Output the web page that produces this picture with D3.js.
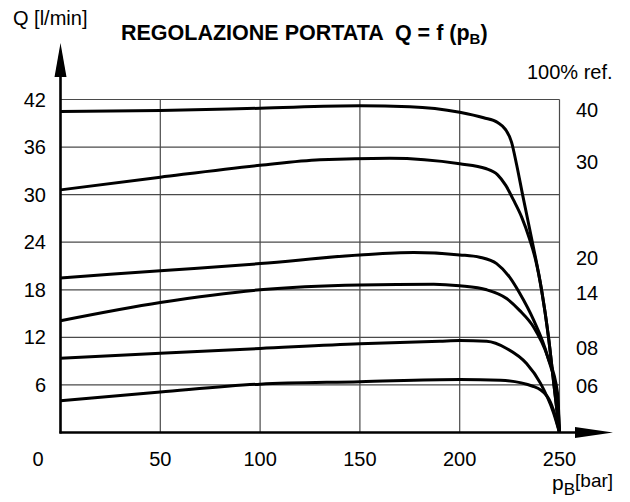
<!DOCTYPE html>
<html>
<head>
<meta charset="utf-8">
<script src="https://cdn.jsdelivr.net/npm/d3@7"></script>
<style>
  body { margin: 0; background: #fff; }
  svg text { font-family: "Liberation Sans", Arial, sans-serif; fill: #000; white-space: pre; }
</style>
</head>
<body>
<svg id="chart" width="630" height="502"></svg>
<script>
// tick labels
const xTicks = [0, 50, 100, 150, 200, 250];
const yTicks = [6, 12, 18, 24, 30, 36, 42];

// curves: [p_B (bar), Q (l/min)]
const curve40 = [[0, 40.5], [50, 40.6], [100, 40.9], [150, 41.2], [175, 41.1], [200, 40.4], [212, 39.7], [219, 39.1], [223, 38.2], [226, 36.6], [228.5, 33.8], [231.5, 30], [236, 24.5], [241, 18], [244.5, 12], [247, 6.5], [250, 0]];
const curve30 = [[0, 30.6], [50, 32.2], [100, 33.7], [130, 34.4], [165, 34.6], [200, 33.9], [213, 33.3], [219, 32.5], [223, 31.2], [227, 29.3], [231, 27.2], [235, 24.4], [238, 21.8], [241, 18], [244.5, 12], [247, 6.5], [250, 0]];
const curve20 = [[0, 19.5], [50, 20.4], [100, 21.3], [150, 22.4], [177, 22.7], [200, 22.4], [210, 22.1], [218.5, 21.3], [225, 19.6], [230, 17.6], [237, 14.2], [244, 9.6], [249, 4.1], [250, 0]];
const curve14 = [[0, 14.1], [50, 16.4], [100, 18.0], [150, 18.6], [187, 18.7], [200, 18.5], [213.5, 18.0], [223.5, 16.9], [230, 15.4], [237, 13.3], [244, 9.6], [249, 5], [250, 0]];
const curve08 = [[0, 9.35], [50, 10.0], [100, 10.6], [150, 11.2], [190, 11.5], [200, 11.6], [213.5, 11.5], [223.5, 10.6], [233.5, 8.7], [240.5, 6.2], [247, 2.5], [250, 0]];
const curve06 = [[0, 4.0], [50, 5.1], [100, 6.1], [150, 6.4], [200, 6.7], [220.5, 6.6], [237, 5.8], [244, 4.5], [247, 2.8], [250, 0]];

const curveNames = ['40', '30', '20', '14', '08', '06'];
const curves = [curve40, curve30, curve20, curve14, curve08, curve06];

const svg = d3.select('#chart');

const x = d3.scaleLinear().domain([0, 250]).range([60.5, 559.5]);
const y = d3.scaleLinear().domain([0, 42]).range([432.5, 99.5]);

// grid
const grid = svg.append('g').attr('stroke', '#4a4a4a').attr('stroke-width', 1.2);
grid.selectAll('line.h')
  .data(yTicks)
  .enter().append('line')
  .attr('x1', x(0)).attr('x2', x(250))
  .attr('y1', d => y(d)).attr('y2', d => y(d));
grid.selectAll('line.v')
  .data(xTicks.slice(1))
  .enter().append('line')
  .attr('x1', d => x(d)).attr('x2', d => x(d))
  .attr('y1', y(0)).attr('y2', y(42));

// axes with arrows
svg.append('line')
  .attr('x1', x(0)).attr('x2', x(0))
  .attr('y1', y(0) + 1).attr('y2', 70)
  .attr('stroke', '#000').attr('stroke-width', 2.6);
svg.append('path')
  .attr('d', `M${x(0)},43 L${x(0) - 6},77 L${x(0) + 6},77 Z`)
  .attr('fill', '#000');
svg.append('line')
  .attr('x1', x(0) - 1).attr('x2', 585)
  .attr('y1', y(0)).attr('y2', y(0))
  .attr('stroke', '#000').attr('stroke-width', 2.6);
svg.append('path')
  .attr('d', `M613,${y(0)} L575,${y(0) - 5.5} L575,${y(0) + 5.5} Z`)
  .attr('fill', '#000');

// tick labels
svg.append('g').selectAll('text')
  .data(yTicks)
  .enter().append('text')
  .attr('x', 46)
  .attr('y', d => y(d) + 7)
  .attr('text-anchor', 'end')
  .style('font-size', '20px')
  .text(d => d);

svg.append('g').selectAll('text')
  .data(xTicks)
  .enter().append('text')
  .attr('x', d => d === 0 ? 38 : x(d))
  .attr('y', 466)
  .attr('text-anchor', 'middle')
  .style('font-size', '20px')
  .text(d => d);

// curves
const line = d3.line()
  .x(d => x(d[0]))
  .y(d => y(d[1]))
  .curve(d3.curveMonotoneX);

svg.append('g').selectAll('path')
  .data(curves)
  .enter().append('path')
  .attr('d', line)
  .attr('fill', 'none')
  .attr('stroke', '#000')
  .attr('stroke-width', 3)
  .attr('stroke-linejoin', 'round');

// curve names on the right
const labelY = [110, 162, 258, 293, 348, 386];
svg.append('g').selectAll('text')
  .data(curveNames)
  .enter().append('text')
  .attr('x', 576)
  .attr('y', (d, i) => labelY[i] + 7)
  .style('font-size', '20px')
  .text(d => d);

svg.append('text')
  .attr('x', 527).attr('y', 79)
  .style('font-size', '20px')
  .text('100% ref.');

// titles
svg.append('text')
  .attr('x', 13).attr('y', 25)
  .style('font-size', '20px')
  .text('Q [l/min]');

const title = svg.append('text')
  .attr('x', 121).attr('y', 40)
  .style('font-size', '21.5px')
  .style('font-weight', 'bold');
title.append('tspan').text('REGOLAZIONE PORTATA  Q = f (p');
title.append('tspan').attr('dy', 4).style('font-size', '15px').text('B');
title.append('tspan').attr('dy', -4).text(')');

const xTitle = svg.append('text')
  .attr('x', 552).attr('y', 490)
  .style('font-size', '21px');
xTitle.append('tspan').text('p');
xTitle.append('tspan').attr('dy', 5).style('font-size', '17px').text('B');
xTitle.append('tspan').attr('dy', -8).style('font-size', '19px').text('[bar]');
</script>
</body>
</html>
